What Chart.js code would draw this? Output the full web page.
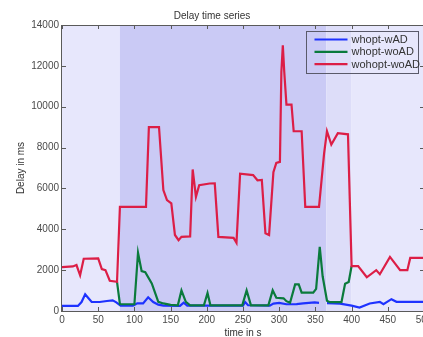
<!DOCTYPE html>
<html>
<head>
<meta charset="utf-8">
<script src="https://cdn.jsdelivr.net/npm/chart.js@4/dist/chart.umd.min.js"></script>
<style>
  html, body { margin: 0; padding: 0; background: #fff; overflow: hidden; }
  #wrap { width: 440px; height: 337px; }
</style>
</head>
<body>
<div id="wrap"><canvas id="c" width="440" height="337"></canvas></div>
<script>
// ---- data (time in s, delay in ms) ----
const seriesNames = ["whopt-wAD", "whopt-woAD", "wohopt-woAD"];

const blueT = [0, 22, 27, 32, 36, 41, 52, 62, 70, 75, 81, 98, 104, 112, 119, 126, 133, 140, 163, 168, 173, 250, 253, 257, 287, 292, 300, 310, 324, 333, 349, 355, 360, 366, 384, 400, 411, 425, 439, 444, 455, 462, 500];
const blueV = [250, 250, 440, 820, 650, 440, 440, 490, 520, 425, 260, 260, 375, 375, 670, 440, 310, 260, 250, 410, 260, 260, 440, 280, 260, 360, 400, 330, 340, 370, 420, 400, null, 390, 360, 260, 170, 370, 450, 330, 580, 450, 450];

const greenT = [76, 80, 100, 105, 110, 115, 124, 128, 133, 140, 150, 160, 165, 171, 177, 196, 201, 205, 249, 255, 261, 285, 291, 296, 306, 310, 315, 322, 327, 331, 347, 351, 356, 360, 366, 370, 386, 391, 396, 400];
const greenV = [1430, 330, 330, 2850, 1950, 1900, 1350, 950, 450, 370, 300, 280, 1010, 450, 280, 280, 880, 280, 280, 1010, 280, 280, 1010, 650, 620, 480, 400, 1300, 1300, 900, 900, 1080, 3140, 1700, 500, 430, 430, 1330, 1420, 2200];

const redT = [0, 15, 20, 25, 30, 50, 55, 60, 66, 76, 80, 116, 120, 134, 140, 145, 151, 156, 161, 165, 177, 180.5, 185, 189.5, 204, 211, 216, 237, 241, 246, 264, 270, 276, 281, 286, 292, 296, 301, 303, 305, 307, 310, 317, 320, 331, 336, 355, 362, 366, 372, 381, 395, 400, 409, 421, 434, 439, 453, 467, 477, 481, 500];
const redV = [2150, 2180, 2250, 1750, 2560, 2580, 2050, 2000, 1480, 1430, 5100, 5100, 9000, 9000, 5920, 5430, 5270, 3720, 3470, 3630, 3650, 6930, 5590, 6160, 6240, 6250, 3630, 3580, 3340, 6720, 6650, 6400, 6420, 3800, 3720, 6800, 7250, 7300, 11700, 13000, 11700, 10100, 10100, 8800, 8800, 5100, 5100, 7700, 8800, 8150, 8700, 8650, 2200, 2200, 1650, 2000, 1800, 2650, 2000, 2000, 2600, 2600];

// shaded time bands
const bandEdges = [0, 80, 365, 400, 500];
const bandColors = ["rgb(231,231,252)", "rgb(202,202,245)", "rgb(221,221,249)", "rgb(231,231,252)"];

const lineColors = ["rgb(30,50,255)", "rgb(10,122,60)", "rgb(220,30,70)"];

function pts(ts, vs) { return ts.map((t, i) => ({ x: t, y: vs[i] })); }

const FONT = "'Liberation Sans', Arial, Helvetica, sans-serif";

const bandsPlugin = {
  id: 'bands',
  beforeDatasetsDraw(chart) {
    const { ctx, chartArea: a, scales: { x } } = chart;
    ctx.save();
    for (let i = 0; i < bandEdges.length - 1; i++) {
      const x0 = x.getPixelForValue(bandEdges[i]);
      const x1 = x.getPixelForValue(bandEdges[i + 1]);
      ctx.fillStyle = bandColors[i];
      ctx.fillRect(x0, a.top, x1 - x0, a.bottom - a.top);
    }
    ctx.restore();
  }
};

const boxPlugin = {
  id: 'box',
  afterDraw(chart) {
    const { ctx, chartArea: a, scales: { x, y } } = chart;
    ctx.save();
    ctx.strokeStyle = "#5a5a5a";
    ctx.lineWidth = 1;
    ctx.strokeRect(Math.round(a.left) - 0.5, Math.round(a.top) + 0.5, Math.round(a.right - a.left), Math.round(a.bottom - a.top));
    ctx.beginPath();
    const tl = 4;
    x.ticks.forEach(t => {
      const px = Math.round(x.getPixelForValue(t.value)) + 0.5;
      ctx.moveTo(px, a.bottom); ctx.lineTo(px, a.bottom - tl);
      ctx.moveTo(px, a.top); ctx.lineTo(px, a.top + tl);
    });
    y.ticks.forEach(t => {
      const py = Math.round(y.getPixelForValue(t.value)) + 0.5;
      ctx.moveTo(a.left, py); ctx.lineTo(a.left + tl, py);
      ctx.moveTo(a.right, py); ctx.lineTo(a.right - tl, py);
    });
    ctx.stroke();

    // legend (inside, top-right)
    const bx = Math.round(a.right) - 117.5, by = Math.round(a.top) + 6.5, bw = 112, bh = 42;
    ctx.strokeStyle = "#5a5a6a";
    ctx.strokeRect(bx, by, bw, bh);
    ctx.font = "11px " + FONT;
    ctx.textBaseline = "middle";
    ctx.textAlign = "left";
    seriesNames.forEach((name, i) => {
      const ly = by + 8 + i * 12.3;
      ctx.strokeStyle = lineColors[i];
      ctx.lineWidth = 2.2;
      ctx.beginPath();
      ctx.moveTo(bx + 8, ly); ctx.lineTo(bx + 41, ly);
      ctx.stroke();
      ctx.fillStyle = "#333";
      ctx.fillText(name, bx + 45, ly + 0.5);
    });
    ctx.restore();
  }
};

const datasets = [
  { label: seriesNames[0], data: pts(blueT, blueV), borderColor: lineColors[0], order: 2 },
  { label: seriesNames[1], data: pts(greenT, greenV), borderColor: lineColors[1], order: 1 },
  { label: seriesNames[2], data: pts(redT, redV), borderColor: lineColors[2], order: 0 }
].map(d => Object.assign(d, { borderWidth: 2.2, pointRadius: 0, tension: 0, fill: false, spanGaps: false }));

new Chart(document.getElementById('c'), {
  type: 'line',
  data: { datasets },
  options: {
    responsive: false,
    animation: false,
    devicePixelRatio: 1,
    layout: { padding: { left: 0, right: 16, top: 0, bottom: 0 } },
    plugins: {
      legend: { display: false },
      tooltip: { enabled: false },
      title: {
        display: true,
        text: "Delay time series",
        color: "#333",
        font: { family: FONT, size: 10, weight: 'normal' },
        padding: { top: 10, bottom: 3 }
      }
    },
    scales: {
      x: {
        type: 'linear',
        min: 0, max: 500,
        ticks: { stepSize: 50, color: "#4a4a4a", padding: 3, font: { family: FONT, size: 10 }, maxRotation: 0, callback: v => String(v) },
        grid: { display: false, drawTicks: false },
        border: { display: false },
        title: { display: true, text: "time in s", color: "#333", font: { family: FONT, size: 10 }, padding: { top: 0, bottom: -2 } },
        afterFit(s) { s.height = 26; }
      },
      y: {
        min: 0, max: 14000,
        ticks: { stepSize: 2000, color: "#4a4a4a", padding: 3, font: { family: FONT, size: 10 }, callback: v => String(v) },
        grid: { display: false, drawTicks: false },
        border: { display: false },
        title: { display: true, text: "Delay in ms", color: "#333", font: { family: FONT, size: 10 }, padding: { top: 15, bottom: 0 } },
        afterFit(s) { s.width = 62; }
      }
    }
  },
  plugins: [bandsPlugin, boxPlugin]
});
</script>
</body>
</html>
